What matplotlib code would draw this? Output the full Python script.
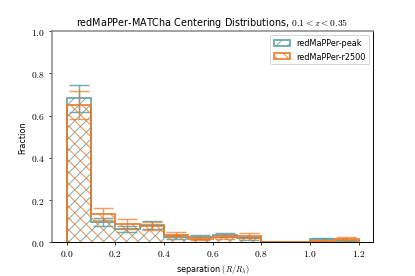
import numpy as np
import matplotlib
matplotlib.use("Agg")
import matplotlib.pyplot as plt
from matplotlib.ticker import FuncFormatter

plt.rcParams['mathtext.fontset'] = 'cm'
plt.rcParams['font.family'] = ['DejaVu Sans']

# bin edges of the separation histogram
bin_edges = np.round(np.arange(0, 1.21, 0.1), 2)
bin_centers = 0.5 * (bin_edges[:-1] + bin_edges[1:])

# fraction of clusters per bin
peak_frac = [0.682, 0.095, 0.062, 0.080, 0.025, 0.025, 0.033, 0.018, 0.0, 0.0, 0.012, 0.004]
peak_err = [0.063, 0.019, 0.016, 0.018, 0.009, 0.009, 0.010, 0.007, 0.0, 0.0, 0.006, 0.003]
r2500_frac = [0.650, 0.133, 0.085, 0.075, 0.035, 0.015, 0.025, 0.030, 0.0, 0.0, 0.003, 0.015]
r2500_err = [0.065, 0.027, 0.022, 0.020, 0.012, 0.008, 0.010, 0.011, 0.0, 0.0, 0.003, 0.007]

peak_color = '#5f9ea0'
r2500_color = '#ee7722'

fig = plt.figure(figsize=(6, 4), dpi=69.2)
ax = fig.add_axes([0.125, 0.123, 0.774, 0.761])

ax.hist(bin_centers, bins=bin_edges, weights=peak_frac, histtype='step',
        hatch='//', edgecolor=peak_color, linewidth=2, alpha=0.85,
        label='redMaPPer-peak')
ax.errorbar(bin_centers, peak_frac, yerr=peak_err, fmt='none',
            ecolor=peak_color, elinewidth=1.5, capsize=10, capthick=1.5, alpha=0.85)

ax.hist(bin_centers, bins=bin_edges, weights=r2500_frac, histtype='step',
        hatch='\\\\', edgecolor=r2500_color, linewidth=2, alpha=0.85,
        label='redMaPPer-r2500')
ax.errorbar(bin_centers, r2500_frac, yerr=r2500_err, fmt='none',
            ecolor=r2500_color, elinewidth=1.5, capsize=10, capthick=1.5, alpha=0.7)

ax.set_ylim(0, 1)
ax.set_xticks([0, 0.2, 0.4, 0.6, 0.8, 1.0, 1.2])
ax.set_yticks([0, 0.2, 0.4, 0.6, 0.8, 1.0])
fmt = FuncFormatter(lambda v, p: r'$%.1f$' % v)
ax.xaxis.set_major_formatter(fmt)
ax.yaxis.set_major_formatter(fmt)
ax.tick_params(labelsize=10)

for side in ['top', 'left']:
    ax.spines[side].set_color('#888888')
    ax.spines[side].set_linewidth(1.6)
for side in ['bottom', 'right']:
    ax.spines[side].set_color('black')
    ax.spines[side].set_linewidth(1.0)

ax.set_xlabel(r'separation $(R/R_\lambda)$', fontsize=8.5)
ax.set_ylabel('Fraction', fontsize=8.5)
ax.set_title(r'redMaPPer-MATCha Centering Distributions, $0.1 < z < 0.35$', fontsize=10)
ax.legend(loc='upper right', fontsize=8.5)

fig.savefig('out.png', dpi=69.2)
